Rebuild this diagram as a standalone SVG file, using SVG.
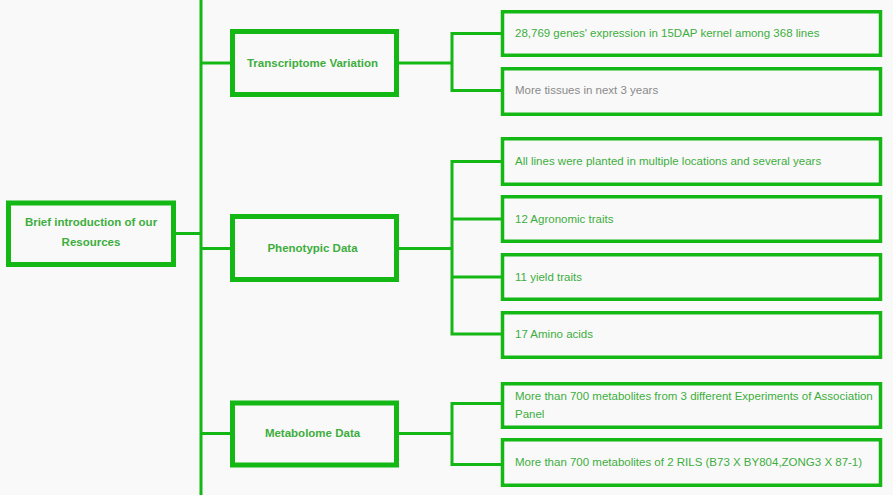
<svg xmlns="http://www.w3.org/2000/svg" width="893" height="495" viewBox="0 0 893 495">
<style>
.bg{fill:#f9f9f9}
.line{stroke:#14b814;stroke-width:3;fill:none}
.mid{fill:#f9f9f9;stroke:#14b814;stroke-width:5}
.leaf{fill:#f9f9f9;stroke:#14b814;stroke-width:3.5}
.bt{font-family:"Liberation Sans",Arial,sans-serif;font-size:11.5px;font-weight:bold;fill:#3dae3d;text-anchor:middle}
.lt{font-family:"Liberation Sans",Arial,sans-serif;font-size:11.5px;fill:#3dae3d}
.gt{font-family:"Liberation Sans",Arial,sans-serif;font-size:11.5px;fill:#8a8a8a}
</style>
<rect class="bg" x="0" y="0" width="893" height="495"/>
<g id="connectors">
<line class="line" x1="201" y1="0" x2="201" y2="495"/>
<line class="line" x1="176" y1="233.5" x2="201" y2="233.5"/>
<line class="line" x1="201" y1="63" x2="231" y2="63"/>
<line class="line" x1="201" y1="248.5" x2="231" y2="248.5"/>
<line class="line" x1="201" y1="433.5" x2="231" y2="433.5"/>
<line class="line" x1="398" y1="63" x2="452" y2="63"/>
<path class="line" d="M501 33.5 H452 V90.5 H501"/>
<line class="line" x1="398" y1="248.5" x2="452" y2="248.5"/>
<path class="line" d="M501 161.5 H452 V334 H501 M452 219 H501 M452 277 H501"/>
<line class="line" x1="398" y1="433.5" x2="452" y2="433.5"/>
<path class="line" d="M501 403.5 H452 V464.5 H501"/>
</g>
<g id="root">
<rect class="mid" x="8.5" y="203" width="165" height="61.5"/>
<text class="bt" x="91" y="226">Brief introduction of our</text>
<text class="bt" x="91" y="246">Resources</text>
</g>
<g id="transcriptome">
<rect class="mid" x="232.5" y="31.5" width="164" height="63"/>
<text class="bt" x="312.5" y="67">Transcriptome Variation</text>
</g>
<g id="phenotypic">
<rect class="mid" x="232.5" y="216.5" width="164" height="63"/>
<text class="bt" x="312.5" y="252">Phenotypic Data</text>
</g>
<g id="metabolome">
<rect class="mid" x="232.5" y="403" width="164" height="62"/>
<text class="bt" x="312.5" y="437">Metabolome Data</text>
</g>
<g id="t1">
<rect class="leaf" x="502.5" y="11.75" width="378" height="43.5"/>
<text class="lt" x="515" y="37">28,769 genes' expression in 15DAP kernel among 368 lines</text>
</g>
<g id="t2">
<rect class="leaf" x="502.5" y="68.75" width="378" height="45.5"/>
<text class="gt" x="515" y="94">More tissues in next 3 years</text>
</g>
<g id="p1">
<rect class="leaf" x="502.5" y="138.75" width="378" height="45.5"/>
<text class="lt" x="515" y="165">All lines were planted in multiple locations and several years</text>
</g>
<g id="p2">
<rect class="leaf" x="502.5" y="196.75" width="378" height="44.5"/>
<text class="lt" x="515" y="223">12 Agronomic traits</text>
</g>
<g id="p3">
<rect class="leaf" x="502.5" y="254.75" width="378" height="44.5"/>
<text class="lt" x="515" y="281">11 yield traits</text>
</g>
<g id="p4">
<rect class="leaf" x="502.5" y="312.75" width="378" height="44.5"/>
<text class="lt" x="515" y="338">17 Amino acids</text>
</g>
<g id="m1">
<rect class="leaf" x="502.5" y="383.75" width="378" height="43.5"/>
<text class="lt" x="515" y="400">More than 700 metabolites from 3 different Experiments of Association</text>
<text class="lt" x="515" y="418">Panel</text>
</g>
<g id="m2">
<rect class="leaf" x="502.5" y="439.75" width="378" height="45.5"/>
<text class="lt" x="515" y="466">More than 700 metabolites of 2 RILS (B73 X BY804,ZONG3 X 87-1)</text>
</g>
</svg>
